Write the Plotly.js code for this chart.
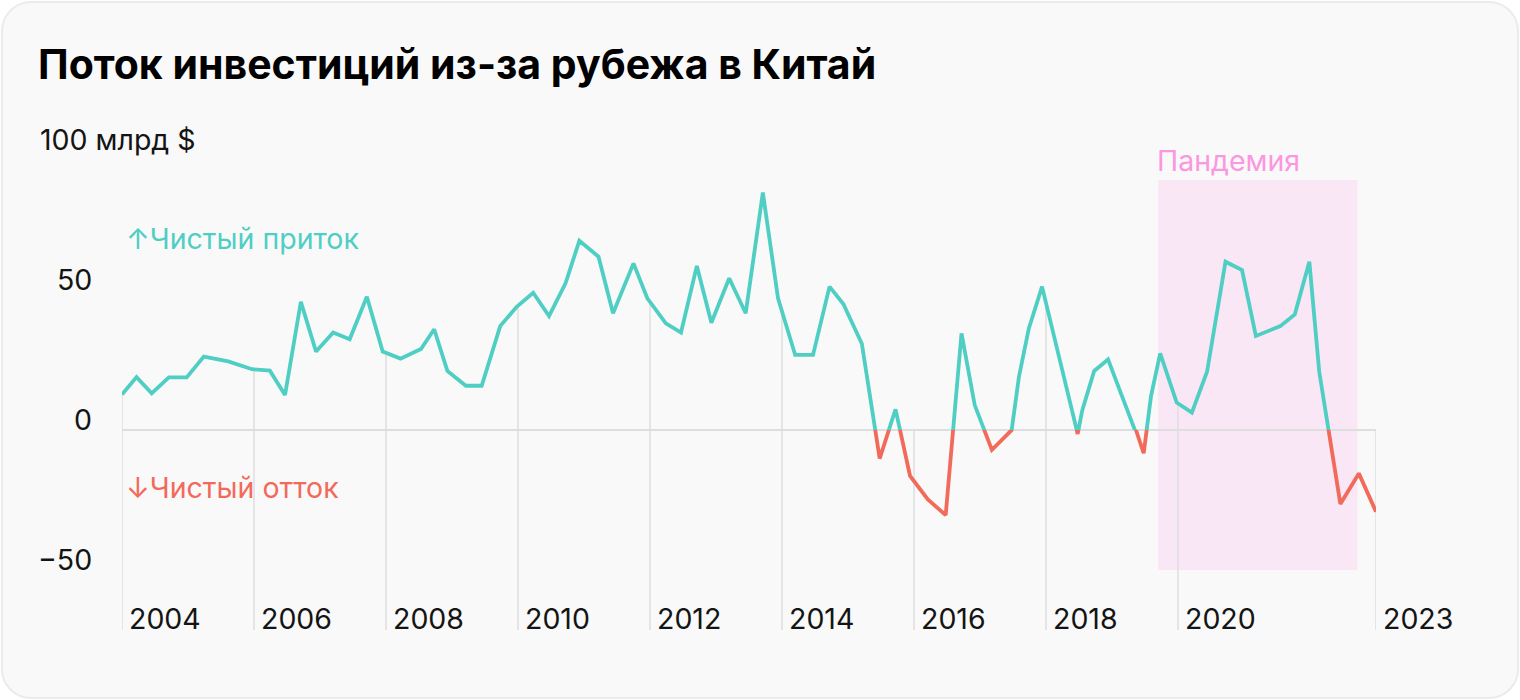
<!DOCTYPE html>
<html>
<head>
<meta charset="utf-8">
<script src="https://cdn.plot.ly/plotly-3.0.1.min.js"></script>
<style>
html, body { margin: 0; padding: 0; background: #ffffff; }
#card { position: absolute; left: 1px; top: 1px; width: 1518px; height: 698px; box-sizing: border-box;
        border: 2px solid #ebebeb; border-radius: 30px; background: #f9f9f9; }
#chart { position: absolute; left: 0; top: 0; width: 1520px; height: 700px; }
</style>
</head>
<body>
<div id="card"></div>
<div id="chart"></div>
<script>
// ---- data ----
const years = [
  2004.00, 2004.22, 2004.45, 2004.71, 2004.98, 2005.24, 2005.61, 2005.97,
  2006.24, 2006.47, 2006.71, 2006.94, 2007.20, 2007.45, 2007.71, 2007.95,
  2008.22, 2008.53, 2008.73, 2008.93, 2009.21, 2009.45, 2009.73, 2009.98,
  2010.23, 2010.47, 2010.72, 2010.93, 2011.22, 2011.44, 2011.75, 2011.96,
  2012.24, 2012.47, 2012.71, 2012.93, 2013.20, 2013.45, 2013.71, 2013.94,
  2014.20, 2014.47, 2014.72, 2014.93, 2015.21, 2015.48, 2015.72, 2015.94,
  2016.21, 2016.48, 2016.72, 2016.92, 2017.18, 2017.48, 2017.59, 2017.74,
  2017.94, 2018.17, 2018.34, 2018.48, 2018.55, 2018.73, 2018.94, 2019.36,
  2019.48, 2019.59, 2019.73, 2019.98, 2020.21, 2020.44, 2020.72, 2020.97,
  2021.18, 2021.55, 2021.77, 2021.99, 2022.14, 2022.46, 2022.74, 2023.00
];
const flow = [
  12.7, 18.9, 13.1, 18.8, 18.8, 26.2, 24.5, 21.7,
  21.2, 12.5, 45.8, 28.0, 34.8, 32.4, 47.6, 28.0,
  25.5, 28.9, 36.0, 21.1, 15.8, 15.8, 37.1, 44.0,
  49.0, 40.7, 52.4, 67.6, 61.9, 41.7, 59.5, 47.0,
  38.1, 34.8, 58.6, 38.3, 54.2, 41.7, 84.8, 47.0,
  26.8, 26.8, 51.2, 45.0, 30.8, -10.2, 7.4, -16.4,
  -24.8, -30.4, 34.5, 8.9, -7.1, 0.0, 19.0, 36.3,
  51.2, 28.6, 11.3, -1.4, 7.1, 21.1, 25.2, 0.2,
  -8.3, 11.9, 27.4, 9.8, 6.2, 20.8, 60.1, 57.1,
  33.6, 37.1, 41.3, 60.1, 20.8, -26.4, -15.5, -29.2
];
const tickYears  = [2004, 2006, 2008, 2010, 2012, 2014, 2016, 2018, 2020, 2023];
const tickLabels = ['2004', '2006', '2008', '2010', '2012', '2014', '2016', '2018', '2020', '2023'];
const yTickVals   = [50, 0, -50];
const yTickLabels = ['50', '0', '−50'];
const unitLabel = '100 млрд $';
const unitValue = 100;
const inflowLabel = '↑Чистый приток';
const outflowLabel = '↓Чистый отток';
const pandemicLabel = 'Пандемия';
const pandemicStart = 2019.70, pandemicEnd = 2022.72;
const pandemicTop = 89.3, pandemicBottom = -50;
const titleText = 'Поток инвестиций из-за рубежа в Китай';

// ---- styling ----
const TEAL = '#4fcec4', RED = '#f26a5a', GRID = '#dedede', INK = '#141414';
const PINK_FILL = '#f9e7f6', PINK_TEXT = '#fb97e0';
const FONT = 'Inter, "Noto Sans", sans-serif';
const FS = 28.5;
const yMin = -71.4286, yMax = 100;
const splitFrac = (0 - yMin) / (yMax - yMin);

// gridline tops follow the line (interpolated from the data at each tick)
function valueAt(t) {
  for (let i = 0; i < years.length - 1; i++) {
    if (t >= years[i] && t <= years[i + 1]) {
      const f = (t - years[i]) / (years[i + 1] - years[i]);
      return flow[i] + f * (flow[i + 1] - flow[i]);
    }
  }
  return t <= years[0] ? flow[0] : flow[flow.length - 1];
}
const gx = [], gy = [];
tickYears.forEach(t => { gx.push(t, t, null); gy.push(Math.max(valueAt(t), 0), yMin, null); });

const traces = [
  { x: gx, y: gy, xaxis: 'x', yaxis: 'y', mode: 'lines', line: { color: GRID, width: 1.5 },
    hoverinfo: 'skip', showlegend: false },
  { x: years, y: flow, xaxis: 'x', yaxis: 'y2', mode: 'lines', line: { color: RED, width: 3.8 },
    showlegend: false },
  { x: years, y: flow, xaxis: 'x', yaxis: 'y3', mode: 'lines', line: { color: TEAL, width: 3.8 },
    showlegend: false }
];

const annotations = [];
annotations.push({ text: unitLabel, xref: 'paper', x: (38 - 122) / 1254, xanchor: 'left',
  yref: 'y', y: unitValue, yanchor: 'middle', yshift: 11, showarrow: false,
  font: { family: FONT, size: FS, color: INK } });
yTickVals.forEach((v, i) => annotations.push({ text: yTickLabels[i], xref: 'paper', x: (94 - 122) / 1254,
  xanchor: 'right', yref: 'y', y: v, yanchor: 'middle', yshift: 11, showarrow: false,
  font: { family: FONT, size: FS, color: INK } }));
tickYears.forEach((t, i) => annotations.push({ text: tickLabels[i], xref: 'x', x: t, xanchor: 'left', xshift: 5,
  yref: 'y', y: yMin, yanchor: 'middle', yshift: 12, showarrow: false,
  font: { family: FONT, size: FS, color: INK } }));
annotations.push({ text: inflowLabel, xref: 'paper', x: (124 - 122) / 1254, xanchor: 'left',
  yref: 'paper', y: (630 - 238) / 480, yanchor: 'middle', showarrow: false,
  font: { family: FONT, size: FS, color: TEAL } });
annotations.push({ text: outflowLabel, xref: 'paper', x: (124 - 122) / 1254, xanchor: 'left',
  yref: 'paper', y: (630 - 487) / 480, yanchor: 'middle', showarrow: false,
  font: { family: FONT, size: FS, color: RED } });
annotations.push({ text: pandemicLabel, xref: 'x', x: pandemicStart, xanchor: 'left', xshift: -3,
  yref: 'y', y: pandemicTop, yanchor: 'bottom', showarrow: false,
  font: { family: FONT, size: FS, color: PINK_TEXT } });

const hidden = { showgrid: false, zeroline: false, showline: false, ticks: '', showticklabels: false, fixedrange: true };

const layout = {
  width: 1520, height: 700,
  margin: { l: 122, r: 144, t: 150, b: 70 },
  paper_bgcolor: 'rgba(0,0,0,0)', plot_bgcolor: 'rgba(0,0,0,0)',
  showlegend: false,
  title: { text: '<b>' + titleText + '</b>', xref: 'container', x: 38 / 1520, xanchor: 'left',
           yref: 'container', y: 1 - 65 / 700, yanchor: 'middle',
           font: { family: FONT, size: 41, color: '#000' } },
  xaxis: Object.assign({}, hidden, { range: [2004, 2023] }),
  yaxis: Object.assign({}, hidden, { range: [yMin, yMax], domain: [0, 1],
           zeroline: true, zerolinecolor: GRID, zerolinewidth: 1.5 }),
  yaxis2: Object.assign({}, hidden, { range: [yMin, 0], domain: [0, splitFrac], anchor: 'x' }),
  yaxis3: Object.assign({}, hidden, { range: [0, yMax], domain: [splitFrac, 1], anchor: 'x' }),
  shapes: [{ type: 'rect', xref: 'x', yref: 'y', x0: pandemicStart, x1: pandemicEnd,
             y0: pandemicBottom, y1: pandemicTop, fillcolor: PINK_FILL, line: { width: 0 }, layer: 'below' }],
  annotations: annotations
};

Plotly.newPlot('chart', traces, layout, { displayModeBar: false, staticPlot: true });
</script>
</body>
</html>
